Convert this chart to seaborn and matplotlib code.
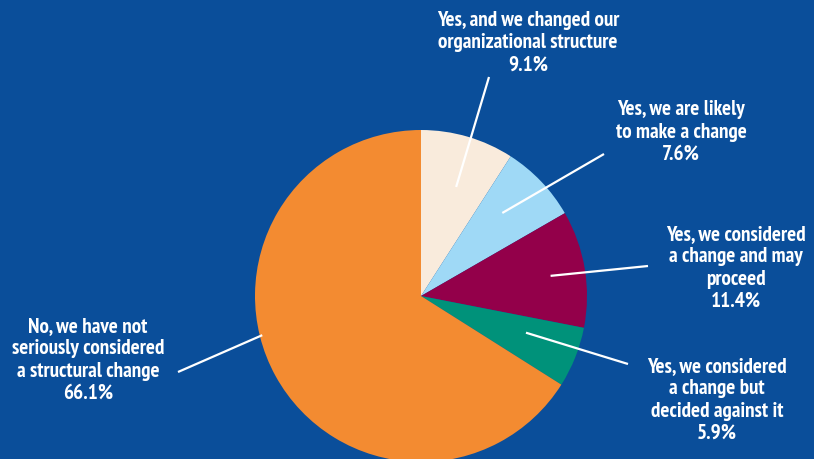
import numpy as np
import matplotlib
matplotlib.use("Agg")
import matplotlib.pyplot as plt
import seaborn as sns

# Survey responses, clockwise from 12 o'clock
labels = [
    "Yes, and we changed our\norganizational structure",
    "Yes, we are likely\nto make a change",
    "Yes, we considered\na change and may\nproceed",
    "Yes, we considered\na change but\ndecided against it",
    "No, we have not\nseriously considered\na structural change",
]
shares = [9.1, 7.6, 11.4, 5.9, 66.1]
slice_colors = ["#f9ebdc", "#9fd9f6", "#93004a", "#00927a", "#f38b31"]

BG = "#0a4e9a"
FONT = ["PT Sans Narrow", "Roboto Condensed", "Roboto", "DejaVu Sans"]

sns.set_theme(style="white", rc={"figure.facecolor": BG, "axes.facecolor": BG})
plt.rcParams["font.family"] = FONT

W, H = 814, 459
fig = plt.figure(figsize=(W / 100, H / 100), dpi=100)
fig.patch.set_facecolor(BG)
ax = fig.add_axes([0, 0, 1, 1])

cx, cy, R = 421, H - 296, 166
palette = sns.color_palette(slice_colors)
wedges, _ = ax.pie(shares, colors=palette, startangle=90, counterclock=False,
                   center=(cx, cy), radius=R, frame=True,
                   wedgeprops=dict(linewidth=0))
ax.set_xlim(0, W)
ax.set_ylim(0, H)
ax.set_aspect("equal")
ax.axis("off")

# label block centres (pixels from top-left) and leader-line settings
text_pos = [(528, 43), (681, 132), (736, 268), (717, 400), (88, 360)]
line_end = [(489, 77), (604, 154), (648, 266), (628, 364), (178, 372)]
inner_frac = [0.69, 0.70, 0.79, 0.67, 0.985]
angle_shift = [-1.5, 2.0, -0.6, 2.4, -15.0]

for w, lab, val, (tx, ty), (ex, ey), fr, sh in zip(
        wedges, labels, shares, text_pos, line_end, inner_frac, angle_shift):
    mid = np.deg2rad((w.theta1 + w.theta2) / 2 + sh)
    px = cx + fr * R * np.cos(mid)
    py = cy + fr * R * np.sin(mid)
    ax.plot([px, ex], [py, H - ey], color="white", lw=1.6, solid_capstyle="butt")
    ax.text(tx, H - ty, f"{lab}\n{val:.1f}%", ha="center", va="center",
            ma="center", color="white", fontsize=15.2, fontweight="bold",
            linespacing=1.23, family=FONT)

fig.savefig("out.png", dpi=100, facecolor=BG)
